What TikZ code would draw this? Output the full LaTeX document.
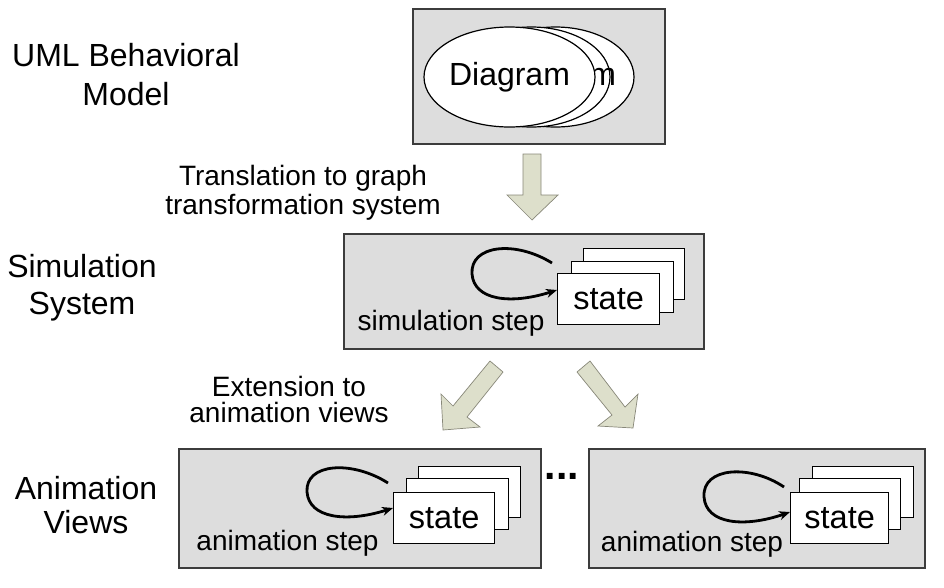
\documentclass[tikz,border=0pt]{standalone}
\usepackage{fontspec}
\setmainfont{Liberation Sans}
\usetikzlibrary{shapes.geometric,arrows.meta}
\definecolor{boxgray}{RGB}{221,221,221}
\definecolor{panelline}{RGB}{60,60,60}
\definecolor{arrowfill}{RGB}{221,223,203}
\definecolor{arrowline}{RGB}{135,135,120}
\begin{document}
\begin{tikzpicture}[x=1pt,y=-1pt,
  panel/.style={draw=panelline, line width=1.5pt, fill=boxgray, anchor=north west, inner sep=0},
  statebox/.style={draw=black, line width=1.3pt, fill=white, anchor=north west, inner sep=0,
     minimum height=51pt, font=\fontsize{32.5}{37}\selectfont},
  oval/.style={ellipse, draw=black, line width=1.2pt, fill=white, inner sep=0,
     minimum width=157pt, minimum height=100pt, font=\fontsize{32}{37}\selectfont},
  ovaltext/.style={inner sep=0, font=\fontsize{32}{37}\selectfont},
  loopline/.style={line width=2.8pt, -{Stealth[length=11pt,width=9pt]}},
  blockarrow/.style={fill=arrowfill, draw=arrowline, line width=0.7pt, line join=miter},
  biglabel/.style={align=center, inner sep=0},
  steplabel/.style={inner sep=0, anchor=base, font=\fontsize{28}{30}\selectfont}]
\useasboundingbox (0,0) rectangle (944,587);

% ---------- top panel ----------
\node[panel, minimum width=252pt, minimum height=135pt] (umlbox) at (412,8) {};
\node[oval] (e3) at (555.5,77) {};
\node[oval] (e2) at (531.5,77) {};
\node[ovaltext] (e3t) at (e3) {Diagram};
\node[oval] (e1) at (509.5,77) {Diagram};

% ---------- middle panel ----------
\node[panel, minimum width=360pt, minimum height=115pt] (simbox) at (343,233) {};
\node[statebox, minimum width=101pt] (sim3) at (583,248) {};
\node[statebox, minimum width=102pt] (sim2) at (571,261) {};
\node[statebox, minimum width=102pt] (sim1) at (557,273) {state};
\coordinate (simls) at (552,263);
\coordinate (simle) at (557,290);
\draw[loopline] (simls) .. controls (515,240) and (470,245) .. (472,274)
                 .. controls (474,300) and (510,305) .. (simle);
\node[steplabel] (simstep) at (451,330) {simulation step};

% ---------- bottom-left panel ----------
\node[panel, minimum width=362pt, minimum height=119pt] (anibox1) at (178,448) {};
\node[statebox, minimum width=102pt] (a13) at (418,466) {};
\node[statebox, minimum width=102pt] (a12) at (406,478) {};
\node[statebox, minimum width=101pt] (a11) at (393,492) {state};
\coordinate (a1ls) at (388,483);
\coordinate (a1le) at (393,508);
\draw[loopline] (a1ls) .. controls (352,460) and (305,463) .. (307,492)
                 .. controls (309,518) and (346,523) .. (a1le);
\node[steplabel] (anistep1) at (287.5,550) {animation step};

% ---------- bottom-right panel ----------
\node[panel, minimum width=336pt, minimum height=119pt] (anibox2) at (588,448) {};
\node[statebox, minimum width=101pt] (a23) at (812,466) {};
\node[statebox, minimum width=101pt] (a22) at (799,478) {};
\node[statebox, minimum width=98pt] (a21) at (790,492) {state};
\coordinate (a2ls) at (784,487);
\coordinate (a2le) at (790,512);
\draw[loopline] (a2ls) .. controls (750,464) and (702,467) .. (704,497)
                 .. controls (706,524) and (744,528) .. (a2le);
\node[steplabel] (anistep2) at (692,551) {animation step};

\node[inner sep=0, anchor=base, font=\fontsize{41}{41}\selectfont\bfseries] (dots) at (562,479) {...};

% ---------- block arrows ----------
\draw[blockarrow] (523,154) -- (541,154) -- (541,195) -- (558,195) -- (532,220)
   -- (507,195) -- (523,195) -- cycle;
\draw[blockarrow] (490,361) -- (503,372) -- (467,417) -- (480,427) -- (443,430)
   -- (441,394) -- (453,406) -- cycle;
\draw[blockarrow] (590,361) -- (625,407) -- (638,394) -- (633,428) -- (598,426)
   -- (612,415) -- (577,372) -- cycle;

% ---------- labels ----------
\node[biglabel, font=\fontsize{32}{39}\selectfont] (lbluml) at (126,74.5) {UML Behavioral\\Model};
\node[biglabel, font=\fontsize{32}{37}\selectfont] (lblsim) at (82,288) {Simulation\\System};
\node[biglabel, font=\fontsize{32}{34}\selectfont] (lblani) at (86,505.5) {Animation\\Views};
\node[biglabel, font=\fontsize{28}{28.5}\selectfont] (lbltrans) at (303,193) {Translation to graph\\transformation system};
\node[biglabel, font=\fontsize{28}{26}\selectfont] (lblext) at (289,399.5) {Extension to\\animation views};
\end{tikzpicture}
\end{document}
